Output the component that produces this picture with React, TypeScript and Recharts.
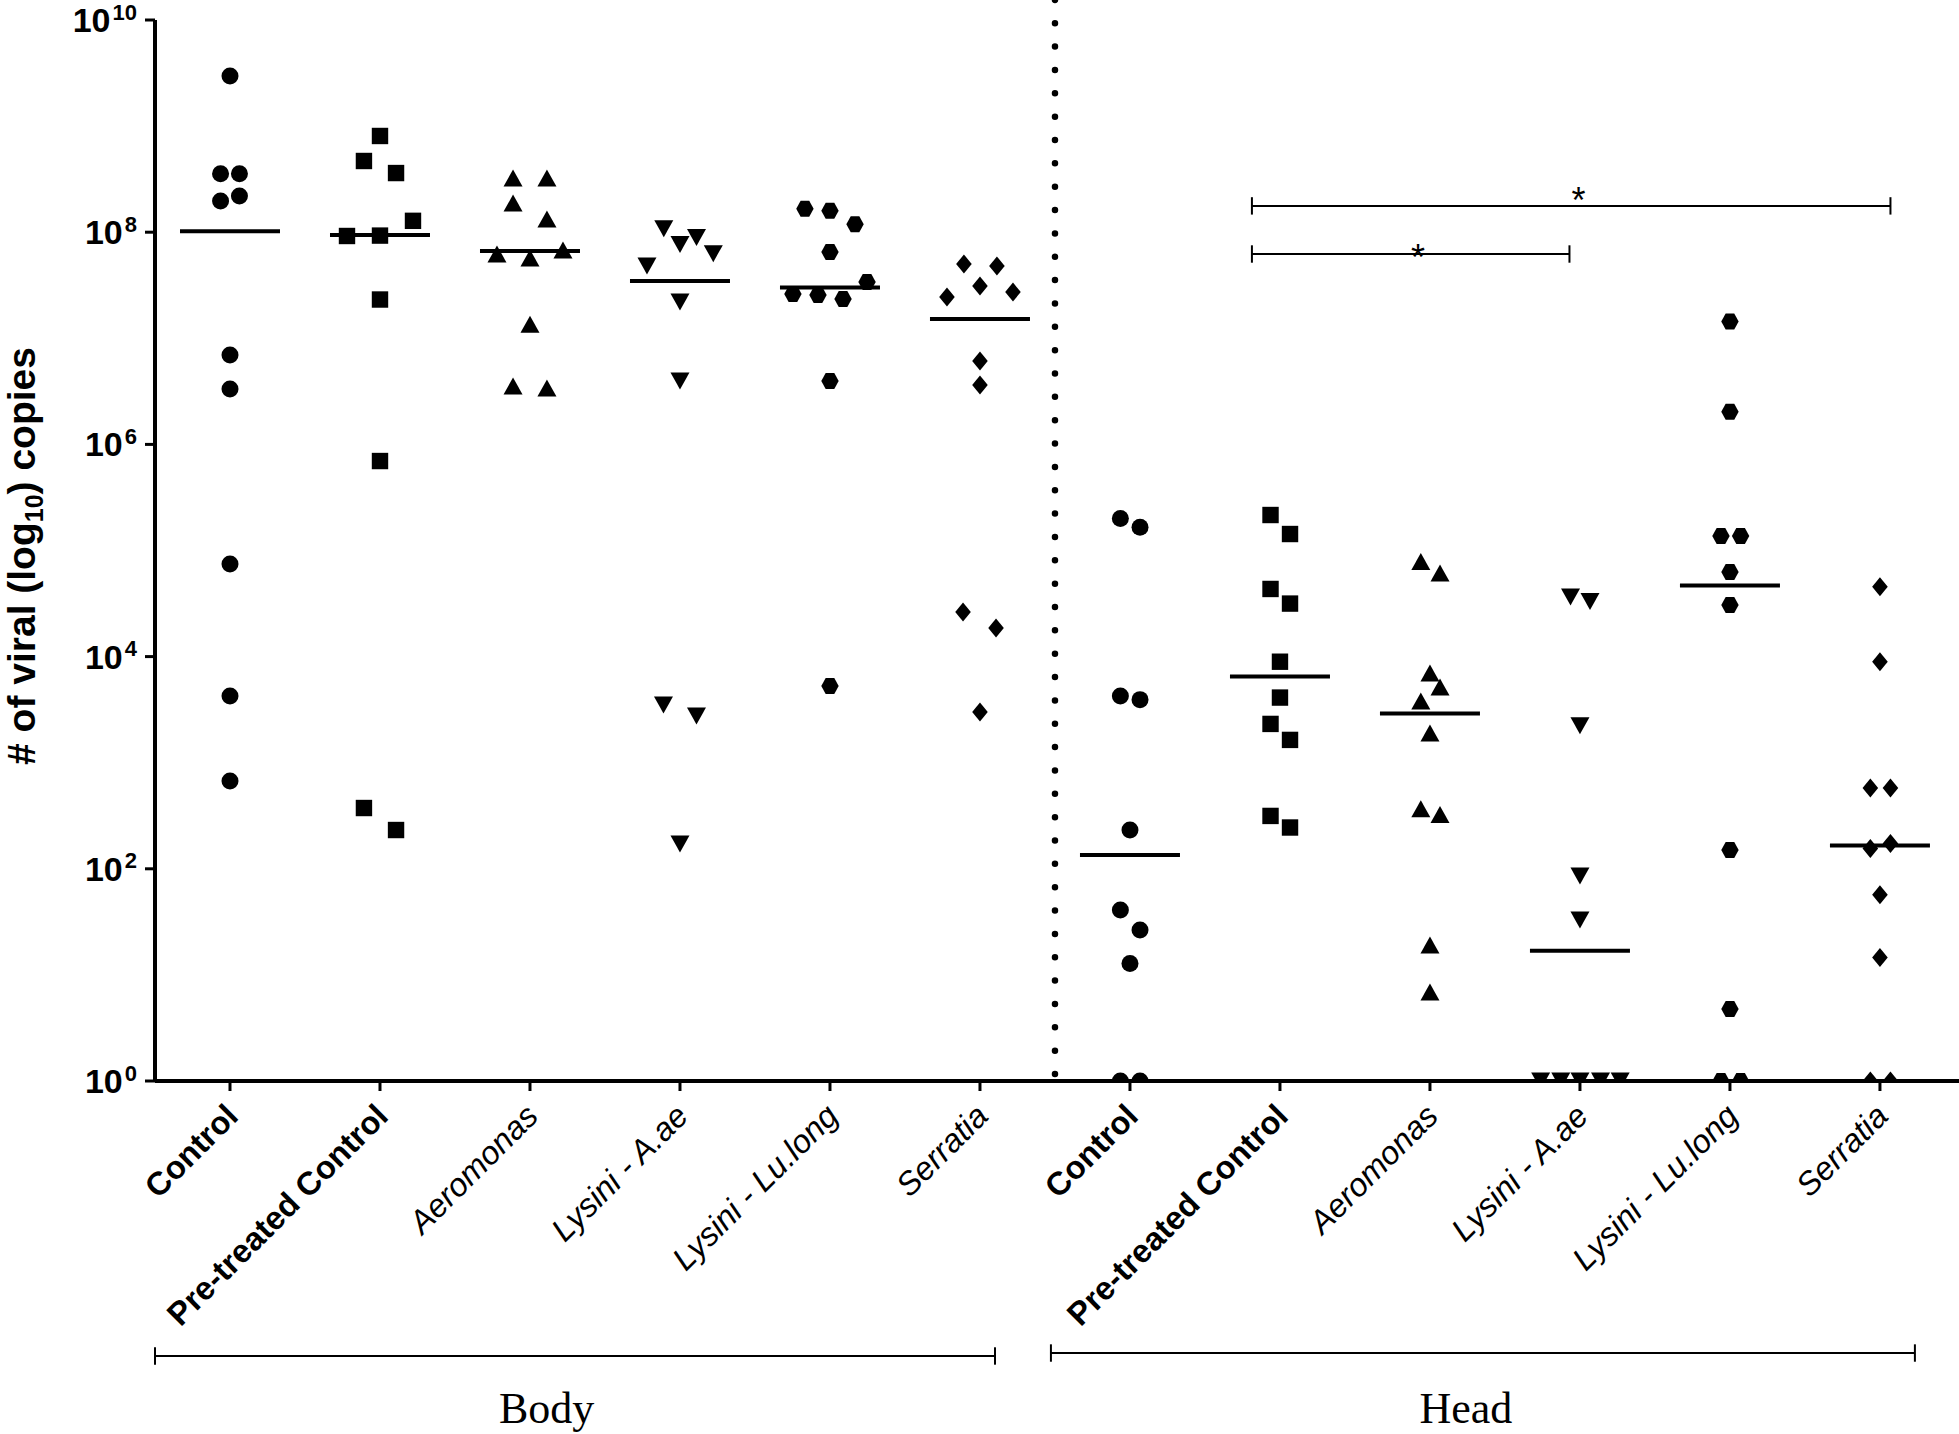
import React from 'react';
import { ScatterChart, Scatter, XAxis, YAxis, ReferenceLine, ReferenceDot } from 'recharts';

// ---------- data ----------
const categories = [
  'Control', 'Pre-treated Control', 'Aeromonas', 'Lysini - A.ae', 'Lysini - Lu.long', 'Serratia',
  'Control', 'Pre-treated Control', 'Aeromonas', 'Lysini - A.ae', 'Lysini - Lu.long', 'Serratia',
];
const boldCategories = [true, true, false, false, false, false, true, true, false, false, false, false];
const markerKinds = ['circle', 'square', 'triUp', 'triDown', 'hexagon', 'diamond'];
const yTicks = [1, 1e2, 1e4, 1e6, 1e8, 1e10];
const xTicks = [0, 1, 2, 3, 4, 5, 6, 7, 8, 9, 10, 11];

// Body
const bodyControl = [2.97e9, 3.55e8, 3.55e8, 1.97e8, 2.19e8, 6.97e6, 3.33e6, 7.46e4, 4.25e3, 672];
const bodyControlJitter = [0, -0.063, 0.063, -0.063, 0.063, 0, 0, 0, 0, 0];
const bodyPretreated = [8.07e8, 4.69e8, 3.61e8, 1.28e8, 9.21e7, 9.29e7, 2.32e7, 6.97e5, 374, 232];
const bodyPretreatedJitter = [0, -0.107, 0.107, 0.22, -0.22, 0, 0, 0, -0.107, 0.107];
const bodyAeromonas = [3.24e8, 3.24e8, 1.88e8, 1.33e8, 6.23e7, 5.71e7, 6.79e7, 1.36e7, 3.55e6, 3.4e6];
const bodyAeromonasJitter = [-0.113, 0.113, -0.113, 0.113, -0.22, 0, 0.22, 0, -0.113, 0.113];
const bodyLysiniAae = [1.08e8, 8.91e7, 7.64e7, 6.28e7, 4.8e7, 2.2e7, 3.96e6, 3.5e3, 2.75e3, 171];
const bodyLysiniAaeJitter = [-0.108, 0.11, 0, 0.222, -0.22, 0, 0, -0.11, 0.11, 0];
const bodyLysiniLulong = [1.66e8, 1.59e8, 1.19e8, 6.5e7, 3.39e7, 2.62e7, 2.56e7, 2.35e7, 3.96e6, 5.28e3];
const bodyLysiniLulongJitter = [-0.167, 0, 0.167, 0, 0.247, -0.247, -0.08, 0.087, 0, 0];
const bodySerratia = [5.01e7, 4.8e7, 3.11e7, 2.45e7, 2.73e7, 6.11e6, 3.63e6, 2.63e4, 1.86e4, 3.01e3];
const bodySerratiaJitter = [-0.107, 0.113, 0, -0.22, 0.22, 0, 0, -0.113, 0.107, 0];

// Head
const headControl = [2.0e5, 1.66e5, 4.25e3, 3.93e3, 232, 40.9, 26.5, 12.8, 1, 1];
const headControlJitter = [-0.064, 0.067, -0.064, 0.067, 0, -0.064, 0.067, 0, -0.064, 0.067];
const headPretreated = [2.16e5, 1.43e5, 4.34e4, 3.16e4, 8.95e3, 4.11e3, 2.32e3, 1.64e3, 315, 245];
const headPretreatedJitter = [-0.063, 0.067, -0.063, 0.067, 0, 0, -0.063, 0.067, -0.063, 0.067];
const headAeromonas = [7.87e4, 6.14e4, 7.0e3, 5.16e3, 3.81e3, 1.91e3, 369, 325, 19.1, 6.9];
const headAeromonasJitter = [-0.061, 0.067, 0, 0.067, -0.061, 0, -0.061, 0.067, 0, 0];
const headLysiniAae = [3.65e4, 3.31e4, 2.23e3, 85.5, 32.9, 1, 1, 1, 1, 1];
const headLysiniAaeJitter = [-0.063, 0.067, 0, 0, 0, -0.262, -0.128, 0, 0.137, 0.268];
const headLysiniLulong = [1.44e7, 2.03e6, 1.37e5, 1.37e5, 6.26e4, 3.06e4, 150, 4.77, 1, 1];
const headLysiniLulongJitter = [0, 0, -0.06, 0.071, 0, 0, 0, 0, -0.06, 0.071];
const headSerratia = [4.55e4, 8.95e3, 578, 578, 155, 173, 56.8, 14.6, 1, 1];
const headSerratiaJitter = [0, 0, -0.064, 0.07, -0.064, 0.07, 0, 0, -0.064, 0.07];

const bodyMeans = [1.02e8, 9.42e7, 6.65e7, 3.47e7, 3.01e7, 1.52e7];
const headMeans = [135, 6.5e3, 2.91e3, 16.9, 4.68e4, 166];

// significance comparisons (head): x in category units, y = bracket level, star level
const sigFrom = [6.813, 6.813];
const sigTo = [11.07, 8.93];
const sigLevel = [1.77e8, 6.23e7];
const sigStarX = [8.99, 7.92];
const sigStarY = [2.41e8, 7.02e7];

// group brackets below axis
const groupNames = ['Body', 'Head'];
const groupFrom = [-0.5, 5.473];
const groupTo = [5.1, 11.233];
const groupLineY = [2.56e-3, 2.73e-3];
const groupLabelX = [2.111, 8.24];
const groupLabelY = [5.98e-4, 5.98e-4];

const groups = [
  [bodyControl, bodyControlJitter],
  [bodyPretreated, bodyPretreatedJitter],
  [bodyAeromonas, bodyAeromonasJitter],
  [bodyLysiniAae, bodyLysiniAaeJitter],
  [bodyLysiniLulong, bodyLysiniLulongJitter],
  [bodySerratia, bodySerratiaJitter],
  [headControl, headControlJitter],
  [headPretreated, headPretreatedJitter],
  [headAeromonas, headAeromonasJitter],
  [headLysiniAae, headLysiniAaeJitter],
  [headLysiniLulong, headLysiniLulongJitter],
  [headSerratia, headSerratiaJitter],
];

const meanData = [...bodyMeans, ...headMeans].map((m, i) => ({ x: i, y: m }));

// ---------- styling ----------
const SANS = '"Liberation Sans", Arial, Helvetica, sans-serif';
const SERIF = '"Liberation Serif", "Times New Roman", Times, serif';
const W = 1959;
const H = 1434;
const MARGIN = { top: 20, right: 0, bottom: 53, left: 55 };
const Y_AXIS_W = 100;
const X_AXIS_H = 300;

const makeShape = (kind: string) => (props: any) => {
  const { cx, cy } = props;
  if (cx == null || cy == null) return <g />;
  switch (kind) {
    case 'circle':
      return <circle cx={cx} cy={cy} r={8.5} fill="#000" />;
    case 'square':
      return <rect x={cx - 8.2} y={cy - 8.2} width={16.4} height={16.4} fill="#000" />;
    case 'triUp':
      return <polygon points={`${cx},${cy - 8.5} ${cx + 9.5},${cy + 8.5} ${cx - 9.5},${cy + 8.5}`} fill="#000" />;
    case 'triDown':
      return <polygon points={`${cx - 9.5},${cy - 8.5} ${cx + 9.5},${cy - 8.5} ${cx},${cy + 8.5}`} fill="#000" />;
    case 'hexagon':
      return (
        <polygon
          points={`${cx - 8.7},${cy} ${cx - 4.3},${cy - 8} ${cx + 4.3},${cy - 8} ${cx + 8.7},${cy} ${cx + 4.3},${cy + 8} ${cx - 4.3},${cy + 8}`}
          fill="#000"
        />
      );
    case 'diamond':
    default:
      return <polygon points={`${cx},${cy - 9.5} ${cx + 7.8},${cy} ${cx},${cy + 9.5} ${cx - 7.8},${cy}`} fill="#000" />;
  }
};

const meanShape = (props: any) => {
  const { cx, cy } = props;
  if (cx == null || cy == null) return <g />;
  return <line x1={cx - 50} x2={cx + 50} y1={cy} y2={cy} stroke="#000" strokeWidth={4} />;
};

const starShape = (props: any) => {
  const { cx, cy } = props;
  return (
    <text x={cx} y={cy + 21} textAnchor="middle" fontFamily={SANS} fontSize={36} fill="#000">
      *
    </text>
  );
};

const makeGroupLabel = (name: string) => (props: any) => {
  const { cx, cy } = props;
  return (
    <text x={cx} y={cy} textAnchor="middle" fontFamily={SERIF} fontSize={44} fill="#000">
      {name}
    </text>
  );
};

const XTick = (props: any) => {
  const { x, y, payload } = props;
  const i = Math.round(payload.value);
  const bold = boldCategories[i];
  const ax = x + 10;
  const ay = y + 25;
  return (
    <text
      x={ax}
      y={ay}
      transform={`rotate(-45 ${ax} ${ay})`}
      textAnchor="end"
      fontFamily={SANS}
      fontSize={32.5}
      fontWeight={bold ? 700 : 400}
      fontStyle={bold ? 'normal' : 'italic'}
      fill="#000"
    >
      {categories[i]}
    </text>
  );
};

const YTick = (props: any) => {
  const { x, y, payload } = props;
  const exp = Math.round(Math.log10(payload.value));
  return (
    <text
      x={x - 6}
      y={y + 12}
      textAnchor="end"
      fontFamily={SANS}
      fontWeight={700}
      fontSize={34}
      fill="#000"
    >
      10
      <tspan fontSize={22} dx={2} dy={-12.5}>
        {exp}
      </tspan>
    </text>
  );
};

const YLabel = () => {
  const cx = 35;
  const cy = 556;
  return (
    <text
      x={cx}
      y={cy}
      transform={`rotate(-90 ${cx} ${cy})`}
      textAnchor="middle"
      fontFamily={SANS}
      fontWeight={700}
      fontSize={39}
      fill="#000"
    >
      # of viral (log
      <tspan fontSize={25} dy={8}>
        10
      </tspan>
      <tspan dy={-8}>) copies</tspan>
    </text>
  );
};

const capOffset = 10 ** 0.082;

export default function App() {
  return (
    <div style={{ position: 'absolute', left: 0, top: 0, width: W, height: H, background: '#fff' }}>
      <ScatterChart width={W} height={H} margin={MARGIN}>
        <XAxis
          type="number"
          dataKey="x"
          domain={[-0.5, 11.527]}
          allowDataOverflow
          ticks={xTicks}
          interval={0}
          height={X_AXIS_H}
          tick={<XTick />}
          tickSize={10}
          tickLine={{ stroke: '#000', strokeWidth: 3 }}
          axisLine={{ stroke: '#000', strokeWidth: 4 }}
        />
        <YAxis
          type="number"
          dataKey="y"
          scale="log"
          domain={[1, 1e10]}
          allowDataOverflow
          ticks={yTicks}
          interval={0}
          width={Y_AXIS_W}
          tick={<YTick />}
          tickSize={10}
          tickLine={{ stroke: '#000', strokeWidth: 3 }}
          axisLine={{ stroke: '#000', strokeWidth: 4 }}
          label={<YLabel />}
        />

        {/* dotted divider between Body and Head */}
        <ReferenceLine
          segment={[{ x: 5.5, y: 10 ** 0.066 }, { x: 5.5, y: 10 ** 10.19 }]}
          stroke="#000"
          strokeWidth={6.5}
          strokeDasharray="0 23.35"
          strokeLinecap="round"
          ifOverflow="visible"
        />

        {groups.map(([vals, jit], gi) => (
          <Scatter
            key={`g${gi}`}
            data={(vals as number[]).map((v, i) => ({ x: gi + (jit as number[])[i], y: v }))}
            shape={makeShape(markerKinds[gi % 6])}
            isAnimationActive={false}
          />
        ))}

        <Scatter data={meanData} shape={meanShape} isAnimationActive={false} />

        {/* significance brackets */}
        {sigFrom.map((f, i) => (
          <ReferenceLine
            key={`sh${i}`}
            segment={[{ x: f, y: sigLevel[i] }, { x: sigTo[i], y: sigLevel[i] }]}
            stroke="#000"
            strokeWidth={2}
            ifOverflow="visible"
          />
        ))}
        {sigFrom.map((f, i) => (
          <ReferenceLine
            key={`sl${i}`}
            segment={[{ x: f, y: sigLevel[i] / capOffset }, { x: f, y: sigLevel[i] * capOffset }]}
            stroke="#000"
            strokeWidth={2}
            ifOverflow="visible"
          />
        ))}
        {sigTo.map((t, i) => (
          <ReferenceLine
            key={`sr${i}`}
            segment={[{ x: t, y: sigLevel[i] / capOffset }, { x: t, y: sigLevel[i] * capOffset }]}
            stroke="#000"
            strokeWidth={2}
            ifOverflow="visible"
          />
        ))}
        {sigStarX.map((sx, i) => (
          <ReferenceDot key={`st${i}`} x={sx} y={sigStarY[i]} r={0} shape={starShape} ifOverflow="visible" />
        ))}

        {/* group brackets under the axis */}
        {groupNames.map((g, i) => (
          <ReferenceLine
            key={`gh${i}`}
            segment={[{ x: groupFrom[i], y: groupLineY[i] }, { x: groupTo[i], y: groupLineY[i] }]}
            stroke="#000"
            strokeWidth={2}
            ifOverflow="visible"
          />
        ))}
        {groupNames.map((g, i) => (
          <ReferenceLine
            key={`gl${i}`}
            segment={[{ x: groupFrom[i], y: groupLineY[i] / capOffset }, { x: groupFrom[i], y: groupLineY[i] * capOffset }]}
            stroke="#000"
            strokeWidth={2}
            ifOverflow="visible"
          />
        ))}
        {groupNames.map((g, i) => (
          <ReferenceLine
            key={`gr${i}`}
            segment={[{ x: groupTo[i], y: groupLineY[i] / capOffset }, { x: groupTo[i], y: groupLineY[i] * capOffset }]}
            stroke="#000"
            strokeWidth={2}
            ifOverflow="visible"
          />
        ))}
        {groupNames.map((g, i) => (
          <ReferenceDot
            key={`gt${i}`}
            x={groupLabelX[i]}
            y={groupLabelY[i]}
            r={0}
            shape={makeGroupLabel(g)}
            ifOverflow="visible"
          />
        ))}
      </ScatterChart>
    </div>
  );
}
